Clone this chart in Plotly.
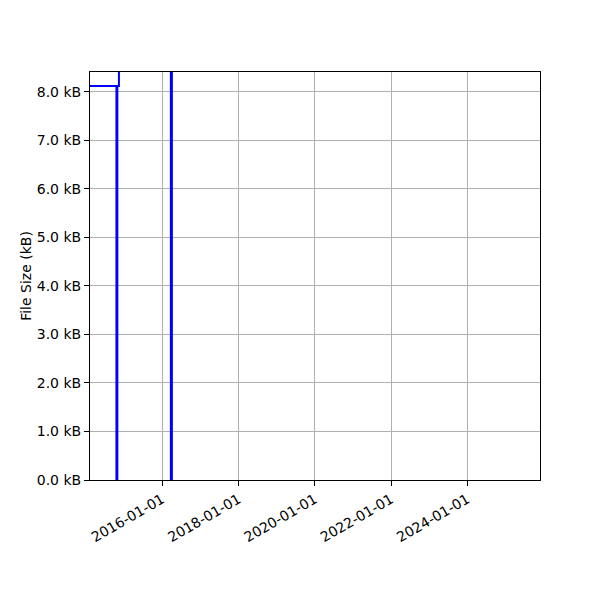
import plotly.graph_objects as go

# Step data: change dates and file size (kB) after each change
change_dates = ["2014-01-01", "2014-10-21", "2014-10-30", "2014-11-14",
                "2016-03-25", "2016-04-04", "2026-06-01"]
file_size_kb = [8.12, 0.0, 8.12, 25.0, 0.0, 25.0, 25.0]

x_range = ["2014-02-10", "2025-11-27"]
y_range = [0.0, 8.41]

x_tick_labels = ["2016-01-01", "2018-01-01", "2020-01-01", "2022-01-01", "2024-01-01"]
y_tick_values = [0, 1, 2, 3, 4, 5, 6, 7, 8]
y_tick_labels = ["%.1f kB" % v for v in y_tick_values]

fig = go.Figure()
fig.add_trace(go.Scatter(
    x=change_dates, y=file_size_kb, mode="lines",
    line=dict(color="#0000ff", width=2, shape="hv"),
    showlegend=False, hoverinfo="skip",
))

font = dict(family="DejaVu Sans", size=14, color="black")
fig.update_layout(
    width=600, height=600,
    margin=dict(l=82, r=68, t=64, b=128),
    paper_bgcolor="white", plot_bgcolor="white",
    font=font,
)
fig.update_xaxes(
    type="date", range=x_range,
    tickvals=x_tick_labels, ticktext=x_tick_labels, tickangle=-30,
    showgrid=True, gridcolor="#b0b0b0", gridwidth=1,
    showline=True, linecolor="black", linewidth=1, mirror=True,
    ticks="outside", ticklen=5, tickcolor="black",
    zeroline=False, tickfont=font,
)
fig.update_yaxes(
    range=y_range, tickvals=y_tick_values, ticktext=y_tick_labels,
    showgrid=True, gridcolor="#b0b0b0", gridwidth=1,
    showline=True, linecolor="black", linewidth=1, mirror=True,
    ticks="outside", ticklen=5, tickcolor="black",
    zeroline=False, tickfont=font,
    title=dict(text="File Size (kB)", font=font, standoff=1),
)
fig.write_html("out.html")
